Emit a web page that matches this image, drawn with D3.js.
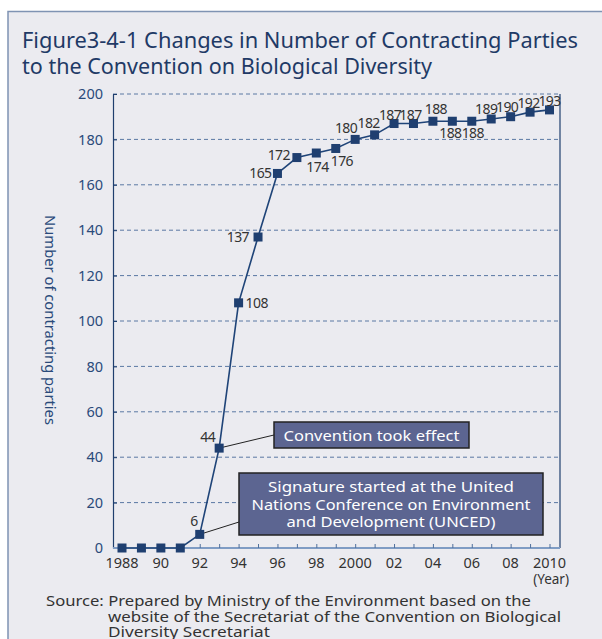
<!DOCTYPE html>
<html><head><meta charset="utf-8">
<script src="https://cdn.jsdelivr.net/npm/d3@7"></script>
<style>
html,body{margin:0;padding:0;background:#fff;}
svg{display:block;}
text{font-family:"Noto Sans",sans-serif;}
</style></head>
<body>
<script>
const years = [1988,1989,1990,1991,1992,1993,1994,1995,1996,1997,1998,1999,2000,2001,2002,2003,2004,2005,2006,2007,2008,2009,2010];
const parties = [0,0,0,0,6,44,108,137,165,172,174,176,180,182,187,187,188,188,188,189,190,192,193];
const xTickYears = [1988,1990,1992,1994,1996,1998,2000,2002,2004,2006,2008,2010];
const xTickLabels = ["1988","90","92","94","96","98","2000","02","04","06","08","2010"];
const yTicks = [0,20,40,60,80,100,120,140,160,180,200];
const titleLines = ["Figure3-4-1 Changes in Number of Contracting Parties","to the Convention on Biological Diversity"];
const sourceLines = ["Source: Prepared by Ministry of the Environment based on the","website of the Secretariat of the Convention on Biological","Diversity Secretariat"];
const note1 = ["Convention took effect"];
const note2 = ["Signature started at the United","Nations Conference on Environment","and Development (UNCED)"];

// layout: value-label placement per point [dx, dy, anchor]
const labelPlace = [null,null,null,null,
  [-2,-8,"end"],[-4,-6,"end"],[7,5,"start"],[-9,5,"end"],[-6,5,"end"],[-7,2,"end"],
  [-10,19,"start"],[-5,18,"start"],[2,-6,"end"],[-6,-7,"middle"],[-4,-4,"middle"],[-3,-4,"middle"],
  [3,-7,"middle"],[-2,17,"middle"],[1,17,"middle"],[-5,-5,"middle"],[-3.5,-5,"middle"],[-1.5,-4,"middle"],[0,-4,"middle"]];

const W=602,H=639;
const svg=d3.select("body").append("svg").attr("width",W).attr("height",H);
svg.append("rect").attr("x",8).attr("y",11.5).attr("width",W).attr("height",H).attr("fill","#ebebf0").attr("stroke","#7f93b3").attr("stroke-width",1.5);

const navy="#1f3f6e";
const titleLen=[556,410];
svg.append("g").selectAll("text").data(titleLines).join("text")
  .attr("x",22).attr("y",(d,i)=>48+i*26).attr("fill","#1f3a66").attr("font-size",21)
  .attr("textLength",(d,i)=>titleLen[i]).attr("lengthAdjust","spacingAndGlyphs").text(d=>d);

const x=d3.scaleLinear().domain([1988,2010]).range([122,549.5]);
const y=d3.scaleLinear().domain([0,200]).range([548,94]);
const L=113,R=560;

svg.append("g").selectAll("line").data(yTicks.filter(d=>d>0)).join("line")
  .attr("x1",L).attr("x2",R).attr("y1",d=>y(d)).attr("y2",d=>y(d))
  .attr("stroke","#5a78a3").attr("stroke-width",1).attr("stroke-dasharray","4,3");
svg.append("line").attr("x1",R).attr("x2",R).attr("y1",y(200)).attr("y2",y(0)).attr("stroke",navy).attr("stroke-width",1.2);

const ya=svg.append("g").attr("transform",`translate(${L},0)`).call(d3.axisLeft(y).tickValues(yTicks).tickSizeInner(-4).tickSizeOuter(0).tickPadding(10));
ya.select(".domain").attr("stroke",navy).attr("stroke-width",1.2);
ya.selectAll(".tick line").attr("stroke",navy);
ya.selectAll("text").attr("fill","#2a4a7a").attr("font-size",14.5).attr("font-family","Noto Sans");

const xa=svg.append("g").attr("transform",`translate(0,${y(0)})`).call(d3.axisBottom(x).tickValues(d3.range(1988,2011)).tickSizeInner(-4).tickSizeOuter(0).tickFormat(""));
xa.select(".domain").attr("d",`M${L},0H${R}`).attr("stroke","#7f9cc4").attr("stroke-width",2);
xa.selectAll(".tick line").attr("stroke","#4f6f9c");
svg.append("g").selectAll("text").data(xTickYears).join("text")
  .attr("x",d=>x(d)).attr("y",568).attr("text-anchor","middle").attr("fill","#333").attr("font-size",14.5)
  .text((d,i)=>xTickLabels[i]);
svg.append("text").attr("x",569).attr("y",584).attr("text-anchor","end").attr("fill","#333").attr("font-size",13.5).text("(Year)");

svg.append("text").attr("transform","translate(45,320) rotate(90)").attr("text-anchor","middle")
  .attr("fill","#2a4a7a").attr("font-size",14).attr("textLength",210).attr("lengthAdjust","spacingAndGlyphs").text("Number of contracting parties");

function box(x0,y0,w,h,lines,lh,ty,lens){
  svg.append("rect").attr("x",x0).attr("y",y0).attr("width",w).attr("height",h).attr("fill","#5c6591").attr("stroke","#222").attr("stroke-width",1.5);
  svg.append("g").selectAll("text").data(lines).join("text").attr("x",x0+w/2).attr("y",(d,i)=>ty+i*lh)
    .attr("text-anchor","middle").attr("fill","#fff").attr("font-size",15)
    .attr("textLength",(d,i)=>lens[i]).attr("lengthAdjust","spacingAndGlyphs").text(d=>d);
}
svg.append("line").attr("x1",x(1993)).attr("y1",y(44)).attr("x2",274).attr("y2",435).attr("stroke","#222").attr("stroke-width",1);
svg.append("line").attr("x1",x(1992)).attr("y1",y(6)).attr("x2",239).attr("y2",522).attr("stroke","#222").attr("stroke-width",1);
box(274,422,195,26,note1,0,440.5,[176]);
box(239,473,304,62,note2,17.5,492,[246,279,209]);

const data=years.map((d,i)=>({yr:d,v:parties[i],p:labelPlace[i]}));
svg.append("path").datum(data).attr("fill","none").attr("stroke","#1f4478").attr("stroke-width",1.6)
  .attr("d",d3.line().x(d=>x(d.yr)).y(d=>y(d.v)));
svg.append("g").selectAll("rect").data(data).join("rect")
  .attr("x",d=>x(d.yr)-4.5).attr("y",d=>y(d.v)-4.5).attr("width",9).attr("height",9).attr("fill","#1f3f70");

svg.append("g").selectAll("text").data(data.filter(d=>d.p)).join("text")
  .attr("x",d=>x(d.yr)+d.p[0]).attr("y",d=>y(d.v)+d.p[1]).attr("text-anchor",d=>d.p[2])
  .attr("fill","#333").attr("font-size",14).attr("letter-spacing",-0.6).text(d=>d.v);

const srcLen=[485,453,162];
svg.append("g").selectAll("text").data(sourceLines).join("text")
  .attr("x",(d,i)=>i===0?46:108).attr("y",(d,i)=>606+i*15.5).attr("fill","#333").attr("font-size",14)
  .attr("textLength",(d,i)=>srcLen[i]).attr("lengthAdjust","spacingAndGlyphs").text(d=>d);
</script>
</body></html>
